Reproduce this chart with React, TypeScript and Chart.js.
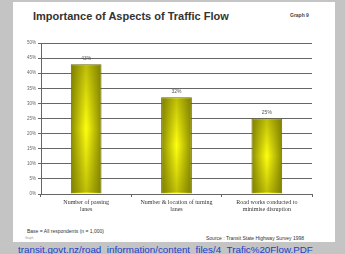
import React, { useEffect, useRef } from "react";
import { Chart, registerables } from "chart.js";
Chart.register(...registerables);

const categories: string[][] = [
  ["Number of passing", "lanes"],
  ["Number & location of turning", "lanes"],
  ["Road works conducted to", "minimise disruption"],
];
const values = [43, 32, 25];
const valueLabels = ["43%", "32%", "25%"];
const yTicks = [0, 5, 10, 15, 20, 25, 30, 35, 40, 45, 50];

const CANVAS_W = 310;
const CANVAS_H = 185;
const BAR_PCT = 0.34;

export default function App() {
  const ref = useRef<HTMLCanvasElement | null>(null);
  useEffect(() => {
    const canvas = ref.current!;
    const plugin = {
      id: "barShadeAndLabels",
      afterDatasetsDraw(chart: any) {
        const ctx = chart.ctx;
        const meta = chart.getDatasetMeta(0);
        ctx.save();
        meta.data.forEach((el: any) => {
          const x0 = el.x - el.width / 2;
          const top = el.y;
          const bottom = el.base;
          if (![x0, top, bottom].every(Number.isFinite)) return;
          const g = ctx.createLinearGradient(0, top, 0, bottom);
          g.addColorStop(0, "rgba(110,110,0,0.45)");
          g.addColorStop(0.5, "rgba(110,110,0,0)");
          g.addColorStop(1, "rgba(110,110,0,0.45)");
          ctx.fillStyle = g;
          ctx.fillRect(x0 + 1, top + 1, el.width - 2, bottom - top - 2);
        });
        ctx.font = "5px 'Liberation Sans'";
        ctx.fillStyle = "#555";
        ctx.textAlign = "center";
        ctx.textBaseline = "bottom";
        meta.data.forEach((el: any, i: number) => {
          ctx.fillText(valueLabels[i], el.x, el.y - 3);
        });
        ctx.restore();
      },
    };
    const chart = new Chart(canvas, {
      type: "bar",
      data: {
        labels: categories,
        datasets: [
          {
            data: values,
            backgroundColor: (c: any) => {
              const chartObj = c.chart;
              const xs = chartObj.scales && chartObj.scales.x;
              if (!xs || c.dataIndex === undefined) return "#d8d800";
              const cx = xs.getPixelForValue(c.dataIndex);
              const w = (xs.width / categories.length) * BAR_PCT;
              if (!Number.isFinite(cx) || !Number.isFinite(w) || w <= 0) return "#d8d800";
              const g = chartObj.ctx.createLinearGradient(cx - w / 2, 0, cx + w / 2, 0);
              g.addColorStop(0, "#8a8a00");
              g.addColorStop(0.5, "#ffff10");
              g.addColorStop(1, "#8a8a00");
              return g;
            },
            borderColor: "#6a6a00",
            borderWidth: 1,
            barPercentage: BAR_PCT,
            categoryPercentage: 1,
          },
        ],
      },
      options: {
        animation: false,
        responsive: false,
        maintainAspectRatio: false,
        layout: { padding: { top: 13, right: 11, left: 0, bottom: 0 } },
        plugins: {
          legend: { display: false },
          tooltip: { enabled: false },
        },
        scales: {
          x: {
            grid: {
              offset: true,
              drawOnChartArea: false,
              tickLength: 3,
              color: "#666",
            },
            border: { display: true, color: "#666" },
            ticks: {
              font: { family: "'Liberation Serif'", size: 6 },
              color: "#333",
              maxRotation: 0,
              padding: 2,
            },
            afterFit: (s: any) => {
              s.height = 21;
            },
          },
          y: {
            min: 0,
            max: 50,
            afterBuildTicks: (s: any) => {
              s.ticks = yTicks.map((v) => ({ value: v }));
            },
            grid: { color: "#666", tickLength: 3, lineWidth: 1 },
            border: { display: true, color: "#666" },
            ticks: {
              font: { family: "'Liberation Sans'", size: 4.5 },
              color: "#666",
              padding: 2,
              callback: (v: any) => v + "%",
            },
            afterFit: (s: any) => {
              s.width = 28;
            },
          },
        },
      },
      plugins: [plugin],
    });
    return () => chart.destroy();
  }, []);

  return (
    <div
      style={{
        position: "fixed",
        left: 0,
        top: 0,
        width: 345,
        height: 254,
        background: "#c4c4c4",
        overflow: "hidden",
        fontFamily: "'Liberation Sans', Arial, sans-serif",
      }}
    >
      <div
        style={{
          position: "absolute",
          left: 13,
          top: 2,
          width: 322,
          height: 240,
          background: "#ffffff",
        }}
      />
      <div
        style={{
          position: "absolute",
          left: 33,
          top: 10,
          fontSize: 11,
          fontWeight: "bold",
          color: "#333",
          whiteSpace: "nowrap",
        }}
      >
        Importance of Aspects of Traffic Flow
      </div>
      <div
        style={{
          position: "absolute",
          left: 290,
          top: 12,
          fontSize: 5,
          fontWeight: "bold",
          color: "#444",
          whiteSpace: "nowrap",
        }}
      >
        Graph 9
      </div>
      <canvas
        ref={ref}
        width={CANVAS_W}
        height={CANVAS_H}
        style={{ position: "absolute", left: 13, top: 30, width: CANVAS_W, height: CANVAS_H }}
      />
      <div
        style={{
          position: "absolute",
          left: 27,
          top: 228,
          fontSize: 5,
          color: "#333",
          whiteSpace: "nowrap",
        }}
      >
        Base = All respondents (n = 1,000)
      </div>
      <div
        style={{
          position: "absolute",
          left: 25,
          top: 236,
          fontSize: 3,
          color: "#999",
          whiteSpace: "nowrap",
        }}
      >
        Graph
      </div>
      <div
        style={{
          position: "absolute",
          left: 206,
          top: 235,
          fontSize: 5,
          color: "#333",
          whiteSpace: "nowrap",
        }}
      >
        Source : Transit State Highway Survey 1998
      </div>
      <div
        style={{
          position: "absolute",
          left: 18,
          top: 245,
          fontSize: 9.8,
          lineHeight: "10px",
          color: "#2040c8",
          whiteSpace: "nowrap",
        }}
      >
        transit.govt.nz/road_information/content_files/4_Trafic%20Flow.PDF
      </div>
    </div>
  );
}
